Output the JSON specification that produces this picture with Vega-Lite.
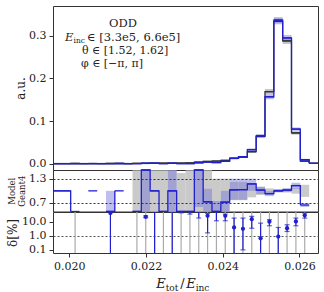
{
  "$schema": "https://vega.github.io/schema/vega-lite/v6.json",
  "padding": {"left": 5, "top": 5, "right": 6, "bottom": 0},
  "spacing": 0,
  "bounds": "flush",
  "config": {
    "font": "DejaVu Serif",
    "view": {"stroke": "#333", "strokeWidth": 1},
    "axis": {"labelFont": "DejaVu Serif", "labelFontSize": 11, "labelColor": "#222", "titleFont": "DejaVu Serif", "titleFontWeight": "normal", "titleColor": "#222", "tickColor": "#333", "tickSize": 4, "domain": false, "grid": false, "labelPadding": 3},
    "text": {"font": "DejaVu Serif", "color": "#222"}
  },
  "datasets": {
    "hist": [
      {"x0": 0.019574, "x1": 0.019804, "g": 0, "m": 0},
      {"x0": 0.019804, "x1": 0.020035, "g": 0, "m": 0},
      {"x0": 0.020035, "x1": 0.020265, "g": 0.0003, "m": 0},
      {"x0": 0.020265, "x1": 0.020495, "g": 0, "m": 0},
      {"x0": 0.020495, "x1": 0.020726, "g": 0.0002, "m": 0.0002},
      {"x0": 0.020726, "x1": 0.020956, "g": 0, "m": 0},
      {"x0": 0.020956, "x1": 0.021186, "g": 0.0003, "m": 0},
      {"x0": 0.021186, "x1": 0.021416, "g": 0.0003, "m": 0.0003},
      {"x0": 0.021416, "x1": 0.021647, "g": 0, "m": 0},
      {"x0": 0.021647, "x1": 0.021877, "g": 0.0005, "m": 0},
      {"x0": 0.021877, "x1": 0.022107, "g": 0.0004, "m": 0.0008},
      {"x0": 0.022107, "x1": 0.022338, "g": 0.0008, "m": 0.0008},
      {"x0": 0.022338, "x1": 0.022568, "g": 0.001, "m": 0},
      {"x0": 0.022568, "x1": 0.022798, "g": 0.0008, "m": 0.0008},
      {"x0": 0.022798, "x1": 0.023029, "g": 0.0012, "m": 0},
      {"x0": 0.023029, "x1": 0.023259, "g": 0.0015, "m": 0},
      {"x0": 0.023259, "x1": 0.023489, "g": 0.002, "m": 0.0035},
      {"x0": 0.023489, "x1": 0.023719, "g": 0.005, "m": 0.0037},
      {"x0": 0.023719, "x1": 0.02395, "g": 0.006, "m": 0.0025},
      {"x0": 0.02395, "x1": 0.02418, "g": 0.0075, "m": 0.0054},
      {"x0": 0.02418, "x1": 0.02441, "g": 0.0122, "m": 0.0125, "gl": 0.0102, "gh": 0.0142, "ml": 0.0105, "mh": 0.0145},
      {"x0": 0.02441, "x1": 0.024641, "g": 0.0155, "m": 0.016, "gl": 0.0135, "gh": 0.0175, "ml": 0.014, "mh": 0.018},
      {"x0": 0.024641, "x1": 0.024871, "g": 0.028, "m": 0.0328, "gl": 0.025, "gh": 0.031, "ml": 0.0298, "mh": 0.0358},
      {"x0": 0.024871, "x1": 0.025101, "g": 0.064, "m": 0.065, "gl": 0.06, "gh": 0.068, "ml": 0.061, "mh": 0.069},
      {"x0": 0.025101, "x1": 0.025332, "g": 0.169, "m": 0.157, "gl": 0.163, "gh": 0.175, "ml": 0.151, "mh": 0.163},
      {"x0": 0.025332, "x1": 0.025562, "g": 0.334, "m": 0.337, "gl": 0.327, "gh": 0.341, "ml": 0.33, "mh": 0.344},
      {"x0": 0.025562, "x1": 0.025792, "g": 0.288, "m": 0.295, "gl": 0.281, "gh": 0.295, "ml": 0.288, "mh": 0.302},
      {"x0": 0.025792, "x1": 0.026022, "g": 0.072, "m": 0.081, "gl": 0.068, "gh": 0.076, "ml": 0.077, "mh": 0.085},
      {"x0": 0.026022, "x1": 0.026253, "g": 0.0093, "m": 0.006, "gl": 0.0073, "gh": 0.0113, "ml": 0.004, "mh": 0.008},
      {"x0": 0.026253, "x1": 0.026483, "g": 0.001, "m": 0.001, "gl": 0, "gh": 0.002, "ml": 0, "mh": 0.002}
    ],
    "ratio": [
      {"x0": 0.019574, "x1": 0.019804, "r": 1.0},
      {"x0": 0.019804, "x1": 0.020035, "r": 1.0},
      {"x0": 0.020035, "x1": 0.020265, "r": 0},
      {"x0": 0.020265, "x1": 0.020495, "r": null},
      {"x0": 0.020495, "x1": 0.020726, "r": 1.0},
      {"x0": 0.020726, "x1": 0.020956, "r": null},
      {"x0": 0.020956, "x1": 0.021186, "r": 0, "bl": 0, "bh": 1.0},
      {"x0": 0.021186, "x1": 0.021416, "r": 1.0},
      {"x0": 0.021416, "x1": 0.021647, "r": null},
      {"x0": 0.021647, "x1": 0.021877, "r": 0, "gl": 0, "gh": 2},
      {"x0": 0.021877, "x1": 0.022107, "r": 1.8, "gl": 0, "gh": 2, "bl": 0, "bh": 2},
      {"x0": 0.022107, "x1": 0.022338, "r": 1.0, "gl": 0, "gh": 2},
      {"x0": 0.022338, "x1": 0.022568, "r": 0, "gl": 0, "gh": 2},
      {"x0": 0.022568, "x1": 0.022798, "r": 1.0, "gl": 0, "gh": 2, "bl": 0, "bh": 2},
      {"x0": 0.022798, "x1": 0.023029, "r": 0, "gl": 0, "gh": 1.44},
      {"x0": 0.023029, "x1": 0.023259, "r": 0, "gl": 0, "gh": 2},
      {"x0": 0.023259, "x1": 0.023489, "r": 1.8, "gl": 0, "gh": 2, "bl": 0.6, "bh": 2},
      {"x0": 0.023489, "x1": 0.023719, "r": 0.73, "gl": 0, "gh": 2, "bl": 0.4, "bh": 1.05},
      {"x0": 0.023719, "x1": 0.02395, "r": 0.4, "gl": 0, "gh": 1.3, "bl": 0.3, "bh": 0.75},
      {"x0": 0.02395, "x1": 0.02418, "r": 0.72, "gl": 0.3, "gh": 1.3, "bl": 0.45, "bh": 1.0},
      {"x0": 0.02418, "x1": 0.02441, "r": 1.025, "gl": 0.78, "gh": 1.22, "bl": 0.77, "bh": 1.3},
      {"x0": 0.02441, "x1": 0.024641, "r": 1.03, "gl": 0.78, "gh": 1.22, "bl": 0.77, "bh": 1.3},
      {"x0": 0.024641, "x1": 0.024871, "r": 1.17, "gl": 0.84, "gh": 1.15, "bl": 1.0, "bh": 1.3},
      {"x0": 0.024871, "x1": 0.025101, "r": 1.02, "gl": 0.9, "gh": 1.1, "bl": 0.92, "bh": 1.1},
      {"x0": 0.025101, "x1": 0.025332, "r": 0.93, "gl": 0.94, "gh": 1.06, "bl": 0.87, "bh": 0.99},
      {"x0": 0.025332, "x1": 0.025562, "r": 1.0, "gl": 0.96, "gh": 1.04, "bl": 0.97, "bh": 1.04},
      {"x0": 0.025562, "x1": 0.025792, "r": 1.02, "gl": 0.96, "gh": 1.04, "bl": 0.98, "bh": 1.07},
      {"x0": 0.025792, "x1": 0.026022, "r": 1.13, "gl": 0.93, "gh": 1.07, "bl": 1.05, "bh": 1.2},
      {"x0": 0.026022, "x1": 0.026253, "r": 0.65, "gl": 0.85, "gh": 1.15, "bl": 0.6, "bh": 0.7},
      {"x0": 0.026253, "x1": 0.026483, "r": null}
    ],
    "delta": [
      {"xc": 0.021071, "d": 40, "dl": 0.001, "dh": 45},
      {"xc": 0.021992, "d": 22, "dl": 19, "dh": 26},
      {"xc": 0.022223, "d": 200, "dl": 0.001, "dh": 1000},
      {"xc": 0.022683, "d": 200, "dl": 0.001, "dh": 1000},
      {"xc": 0.022914, "d": 60, "dl": 42, "dh": 100},
      {"xc": 0.023144, "d": 60, "dl": 34, "dh": 100},
      {"xc": 0.023374, "d": 60, "dl": 18, "dh": 100},
      {"xc": 0.023604, "d": 26, "dl": 1.6, "dh": 38},
      {"xc": 0.023835, "d": 60, "dl": 11.5, "dh": 100},
      {"xc": 0.024065, "d": 26, "dl": 11.5, "dh": 34},
      {"xc": 0.024295, "d": 3.85, "dl": 0.001, "dh": 17.8},
      {"xc": 0.024526, "d": 3.1, "dl": 0.1, "dh": 17.8},
      {"xc": 0.024756, "d": 15, "dl": 3.4, "dh": 23.5},
      {"xc": 0.024986, "d": 0.66, "dl": 0.001, "dh": 7.8},
      {"xc": 0.025216, "d": 9.8, "dl": 5.1, "dh": 13.6},
      {"xc": 0.025447, "d": 0.88, "dl": 0.001, "dh": 3.85},
      {"xc": 0.025677, "d": 3.4, "dl": 2, "dh": 6},
      {"xc": 0.025907, "d": 10.3, "dl": 5.1, "dh": 17.8},
      {"xc": 0.026137, "d": 27.7, "dl": 17.8, "dh": 40}
    ],
    "grey": [
      {"xc": 0.02015}, {"xc": 0.021762}, {"xc": 0.021992}, {"xc": 0.022223}, {"xc": 0.022453},
      {"xc": 0.022683}, {"xc": 0.022914}, {"xc": 0.023144}, {"xc": 0.023374}, {"xc": 0.023604},
      {"xc": 0.023835}, {"xc": 0.024065}, {"xc": 0.024295}, {"xc": 0.024526}, {"xc": 0.024756},
      {"xc": 0.024986}, {"xc": 0.025216}, {"xc": 0.025447}, {"xc": 0.025677}, {"xc": 0.025907},
      {"xc": 0.026137}
    ],
    "ann": [{"ax": 0.0214, "ay": 0.325}],
    "xt": [{"ax": 0.022264, "ay": 0.06}]
  },
  "vconcat": [
    {
      "width": 265,
      "height": 164,
      "layer": [
        {
          "data": {"name": "hist"},
          "mark": {"type": "rect", "fill": "#888", "opacity": 0.5},
          "encoding": {
            "x": {"field": "x0", "type": "quantitative", "scale": {"domain": [0.019574, 0.026483], "nice": false, "zero": false}, "axis": null},
            "x2": {"field": "x1"},
            "y": {"field": "gl", "type": "quantitative", "scale": {"domain": [-0.015, 0.37], "nice": false, "zero": false},
                  "axis": {"values": [0, 0.1, 0.2, 0.3], "format": ".1f", "title": "a.u.", "titleFontSize": 12, "titleX": -33, "titleBaseline": "middle"}},
            "y2": {"field": "gh"}
          }
        },
        {
          "data": {"name": "hist"},
          "mark": {"type": "rect", "fill": "#8080e8", "opacity": 0.5},
          "encoding": {
            "x": {"field": "x0", "type": "quantitative"},
            "x2": {"field": "x1"},
            "y": {"field": "ml", "type": "quantitative"},
            "y2": {"field": "mh"}
          }
        },
        {
          "data": {"name": "hist"},
          "mark": {"type": "rule", "color": "#333", "strokeWidth": 1.3},
          "encoding": {"x": {"field": "x0", "type": "quantitative"}, "x2": {"field": "x1"}, "y": {"field": "g", "type": "quantitative"}}
        },
        {
          "data": {"name": "hist"},
          "mark": {"type": "line", "color": "#333", "strokeWidth": 1.3, "interpolate": "step-after"},
          "encoding": {"x": {"field": "x0", "type": "quantitative"}, "y": {"field": "g", "type": "quantitative"}}
        },
        {
          "data": {"name": "hist"},
          "mark": {"type": "rule", "color": "#2020d0", "strokeWidth": 1.3},
          "encoding": {"x": {"field": "x0", "type": "quantitative"}, "x2": {"field": "x1"}, "y": {"field": "m", "type": "quantitative"}}
        },
        {
          "data": {"name": "hist"},
          "mark": {"type": "line", "color": "#2020d0", "strokeWidth": 1.3, "interpolate": "step-after"},
          "encoding": {"x": {"field": "x0", "type": "quantitative"}, "y": {"field": "m", "type": "quantitative"}}
        },
        {
          "data": {"name": "ann"},
          "mark": {"type": "text", "text": "ODD", "fontSize": 11.5, "align": "center", "baseline": "middle", "dx": 0, "dy": -1},
          "encoding": {"x": {"field": "ax", "type": "quantitative"}, "y": {"field": "ay", "type": "quantitative"}}
        },
        {
          "data": {"name": "ann"},
          "mark": {"type": "text", "text": "E", "fontSize": 11.5, "fontStyle": "italic", "align": "left", "baseline": "middle", "dx": -58, "dy": 13},
          "encoding": {"x": {"field": "ax", "type": "quantitative"}, "y": {"field": "ay", "type": "quantitative"}}
        },
        {
          "data": {"name": "ann"},
          "mark": {"type": "text", "text": "inc", "fontSize": 7.5, "align": "left", "baseline": "middle", "dx": -49.5, "dy": 16},
          "encoding": {"x": {"field": "ax", "type": "quantitative"}, "y": {"field": "ay", "type": "quantitative"}}
        },
        {
          "data": {"name": "ann"},
          "mark": {"type": "text", "text": "∈ [3.3e5, 6.6e5]", "fontSize": 11.5, "align": "left", "baseline": "middle", "dx": -36, "dy": 13},
          "encoding": {"x": {"field": "ax", "type": "quantitative"}, "y": {"field": "ay", "type": "quantitative"}}
        },
        {
          "data": {"name": "ann"},
          "mark": {"type": "text", "text": "θ ∈ [1.52, 1.62]", "fontSize": 11, "align": "center", "baseline": "middle", "dx": 2, "dy": 26},
          "encoding": {"x": {"field": "ax", "type": "quantitative"}, "y": {"field": "ay", "type": "quantitative"}}
        },
        {
          "data": {"name": "ann"},
          "mark": {"type": "text", "text": "φ ∈ [−π, π]", "fontSize": 11, "align": "center", "baseline": "middle", "dx": -11, "dy": 38.5},
          "encoding": {"x": {"field": "ax", "type": "quantitative"}, "y": {"field": "ay", "type": "quantitative"}}
        }
      ]
    },
    {
      "width": 265,
      "height": 41.5,
      "layer": [
        {
          "data": {"name": "ratio"},
          "mark": {"type": "rect", "fill": "#b4b4b4", "opacity": 0.7},
          "encoding": {
            "x": {"field": "x0", "type": "quantitative", "scale": {"domain": [0.019574, 0.026483], "nice": false, "zero": false}, "axis": null},
            "x2": {"field": "x1"},
            "y": {"field": "gl", "type": "quantitative", "scale": {"domain": [0.49, 1.515], "nice": false, "zero": false, "clamp": true},
                  "axis": {"values": [0.7, 1.0, 1.3], "format": ".1f", "title": ["Model", "Geant4"], "titleFontSize": 8.5, "titleLineHeight": 10, "titleX": -42, "titleBaseline": "middle",
                           "grid": true, "gridColor": "#333", "gridWidth": 1,
                           "gridDash": {"condition": {"test": "datum.value === 1", "value": []}, "value": [2, 2]}, "zindex": 1}},
            "y2": {"field": "gh"}
          }
        },
        {
          "data": {"name": "ratio"},
          "mark": {"type": "rect", "fill": "#7070d8", "opacity": 0.45},
          "encoding": {"x": {"field": "x0", "type": "quantitative"}, "x2": {"field": "x1"}, "y": {"field": "bl", "type": "quantitative"}, "y2": {"field": "bh"}}
        },
        {
          "data": {"name": "ratio"},
          "mark": {"type": "rule", "color": "#2020d0", "strokeWidth": 1.3},
          "encoding": {"x": {"field": "x0", "type": "quantitative"}, "x2": {"field": "x1"}, "y": {"field": "r", "type": "quantitative"}}
        },
        {
          "data": {"name": "ratio"},
          "mark": {"type": "line", "color": "#2020d0", "strokeWidth": 1.3, "interpolate": "step-after", "invalid": "break-paths-show-domains"},
          "encoding": {"x": {"field": "x0", "type": "quantitative"}, "y": {"field": "r", "type": "quantitative"}}
        }
      ]
    },
    {
      "width": 265,
      "height": 41,
      "layer": [
        {
          "data": {"name": "grey"},
          "mark": {"type": "rule", "color": "#aaa", "strokeWidth": 1.2, "clip": true},
          "encoding": {
            "x": {"field": "xc", "type": "quantitative", "scale": {"domain": [0.019574, 0.026483], "nice": false, "zero": false},
                  "axis": {"values": [0.020, 0.022, 0.024, 0.026], "format": ".3f", "title": null}}
          }
        },
        {
          "data": {"name": "delta"},
          "mark": {"type": "rule", "color": "#2020d0", "strokeWidth": 1.2, "clip": true},
          "encoding": {
            "x": {"field": "xc", "type": "quantitative"},
            "y": {"field": "dl", "type": "quantitative", "scale": {"type": "log", "domain": [0.06, 48], "nice": false},
                  "axis": {"values": [0.1, 1, 10], "format": ".1f", "title": "δ[%]", "titleFontSize": 12, "titleX": -41, "titleBaseline": "middle",
                           "grid": true, "gridColor": "#555", "gridDash": [2, 2],
                           "gridOpacity": {"condition": {"test": "datum.value === 1", "value": 1}, "value": 0}}},
            "y2": {"field": "dh"}
          }
        },
        {
          "data": {"name": "delta"},
          "mark": {"type": "tick", "orient": "horizontal", "color": "#2020d0", "size": 5, "thickness": 1.2, "clip": true},
          "encoding": {"x": {"field": "xc", "type": "quantitative"}, "y": {"field": "dl", "type": "quantitative"}}
        },
        {
          "data": {"name": "delta"},
          "mark": {"type": "tick", "orient": "horizontal", "color": "#2020d0", "size": 5, "thickness": 1.2, "clip": true},
          "encoding": {"x": {"field": "xc", "type": "quantitative"}, "y": {"field": "dh", "type": "quantitative"}}
        },
        {
          "data": {"name": "delta"},
          "mark": {"type": "point", "filled": true, "color": "#2020d0", "size": 18, "opacity": 1, "clip": true},
          "encoding": {"x": {"field": "xc", "type": "quantitative"}, "y": {"field": "d", "type": "quantitative"}}
        },
        {
          "data": {"name": "xt"},
          "mark": {"type": "text", "text": "E", "fontSize": 13, "fontStyle": "italic", "align": "left", "baseline": "middle", "dx": 0, "dy": 31},
          "encoding": {"x": {"field": "ax", "type": "quantitative"}, "y": {"field": "ay", "type": "quantitative"}}
        },
        {
          "data": {"name": "xt"},
          "mark": {"type": "text", "text": "tot", "fontSize": 9, "align": "left", "baseline": "middle", "dx": 9.5, "dy": 34.5},
          "encoding": {"x": {"field": "ax", "type": "quantitative"}, "y": {"field": "ay", "type": "quantitative"}}
        },
        {
          "data": {"name": "xt"},
          "mark": {"type": "text", "text": "/", "fontSize": 13, "align": "left", "baseline": "middle", "dx": 24, "dy": 31},
          "encoding": {"x": {"field": "ax", "type": "quantitative"}, "y": {"field": "ay", "type": "quantitative"}}
        },
        {
          "data": {"name": "xt"},
          "mark": {"type": "text", "text": "E", "fontSize": 13, "fontStyle": "italic", "align": "left", "baseline": "middle", "dx": 30, "dy": 31},
          "encoding": {"x": {"field": "ax", "type": "quantitative"}, "y": {"field": "ay", "type": "quantitative"}}
        },
        {
          "data": {"name": "xt"},
          "mark": {"type": "text", "text": "inc", "fontSize": 9, "align": "left", "baseline": "middle", "dx": 39.5, "dy": 34.5},
          "encoding": {"x": {"field": "ax", "type": "quantitative"}, "y": {"field": "ay", "type": "quantitative"}}
        }
      ]
    }
  ]
}
